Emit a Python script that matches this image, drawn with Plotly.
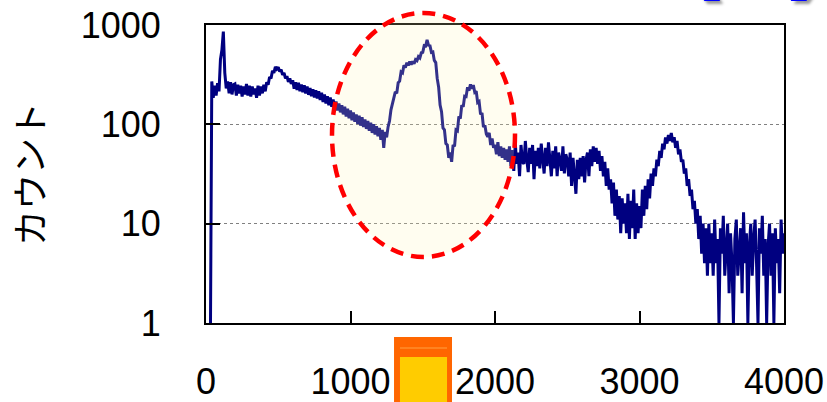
import plotly.graph_objects as go

# Channel numbers (every 10th channel of the spectrum)
channels = list(range(0, 4001, 10))

# Counts per channel, grouped by 100 channels per row
counts = [
    0.5, 0.5, 0.5, 0.5, 270, 185, 245, 195, 260, 215,          # 0-90
    450, 560, 860, 330, 230, 270, 205, 265, 200, 250,          # 100-190
    255, 195, 250, 205, 245, 190, 240, 200, 255, 195,          # 200-290
    245, 190, 240, 200, 230, 185, 245, 195, 240, 205,          # 300-390
    250, 215, 265, 250, 300, 290, 345, 330, 380, 360,          # 400-490
    375, 340, 355, 315, 330, 290, 305, 268, 290, 255,          # 500-590
    278, 228, 265, 222, 262, 215, 252, 210, 248, 205,          # 600-690
    240, 198, 232, 192, 226, 186, 220, 182, 215, 176,          # 700-790
    208, 168, 200, 162, 192, 156, 186, 150, 178, 144,          # 800-890
    170, 138, 162, 132, 156, 126, 150, 120, 144, 115,          # 900-990
    138, 110, 132, 106, 126, 101, 122, 97, 118, 94,            # 1000-1090
    112, 90, 108, 86, 104, 82, 100, 79, 96, 76,                # 1100-1190
    92, 70, 88, 58, 84, 74, 94, 108, 140, 158,                 # 1200-1290
    178, 212, 205, 262, 272, 338, 330, 392, 372, 418,          # 1300-1390
    392, 428, 398, 432, 408, 448, 438, 480, 465, 525,          # 1400-1490
    530, 620, 615, 710, 625, 620, 530, 535, 440, 418,          # 1500-1590
    290, 236, 156, 134, 92, 88, 64, 62, 46, 52,                # 1600-1690
    42, 62, 60, 88, 86, 120, 114, 156, 150, 192,               # 1700-1790
    190, 236, 218, 252, 228, 248, 210, 216, 166, 170,          # 1800-1890
    126, 130, 94, 98, 80, 75, 82, 62, 72, 58,                  # 1900-1990
    62, 50, 66, 48, 60, 46, 58, 44, 56, 42,                    # 2000-2090
    60, 38, 55, 34, 66, 40, 52, 30, 62, 42,                    # 2100-2190
    40, 68, 44, 33, 58, 40, 62, 28, 54, 38,                    # 2200-2290
    58, 36, 64, 40, 32, 58, 38, 66, 42, 30,                    # 2300-2390
    54, 36, 60, 30, 52, 44, 34, 60, 32, 50,                    # 2400-2490
    44, 30, 52, 24, 46, 32, 20, 44, 28, 46,                    # 2500-2590
    30, 48, 26, 44, 52, 30, 56, 38, 60, 42,                    # 2600-2690
    58, 40, 54, 34, 48, 30, 42, 24, 36, 22,                    # 2700-2790
    28, 16, 26, 12, 22, 11, 19, 8, 18, 10,                     # 2800-2890
    16, 8, 20, 7, 17, 9, 22, 7, 16, 8,                         # 2900-2990
    15, 9, 22, 12, 24, 14, 28, 18, 32, 24,                     # 3000-3090
    36, 30, 44, 38, 54, 46, 64, 56, 74, 64,                    # 3100-3190
    78, 68, 82, 66, 74, 58, 68, 50, 56, 42,                    # 3200-3290
    44, 32, 36, 24, 28, 19, 22, 14, 17, 10,                    # 3300-3390
    14, 7, 12, 5, 10, 4, 9, 3, 10, 4,                          # 3400-3490
    8, 3, 11, 4, 7, 1, 9, 5, 12, 3,                            # 3500-3590
    6, 10, 2, 8, 4, 1, 7, 11, 3, 6,                            # 3600-3690
    9, 2, 13, 4, 8, 1, 6, 10, 3, 7,                            # 3700-3790
    11, 4, 1, 9, 5, 12, 3, 7, 1, 6,                            # 3800-3890
    10, 3, 8, 1, 9, 4, 7, 2, 11, 5,                            # 3900-3990
    8,                                                         # 4000
]

x_ticks = [0, 1000, 2000, 3000, 4000]
y_ticks = [1, 10, 100, 1000]
y_title = "カウント"

NAVY = "#000080"
LABEL_FONT = dict(family="Liberation Sans, Arial, sans-serif", size=36, color="black")

fig = go.Figure()
fig.add_trace(go.Scatter(
    x=channels, y=counts, mode="lines",
    line=dict(color=NAVY, width=3),
    hoverinfo="skip", showlegend=False,
))

fig.update_xaxes(
    range=[0, 4000], tickvals=x_ticks, ticktext=[str(v) for v in x_ticks],
    ticks="inside", ticklen=12, tickwidth=2, tickcolor="black",
    showline=True, linecolor="black", linewidth=2, mirror=True,
    showgrid=False, zeroline=False, automargin=False,
    tickfont=LABEL_FONT, ticklabelstandoff=26,
)
fig.update_yaxes(
    type="log", range=[0, 3], tickvals=y_ticks, ticktext=[str(v) for v in y_ticks],
    ticks="inside", ticklen=14, tickwidth=2, tickcolor="black",
    showline=True, linecolor="black", linewidth=2, mirror=True,
    showgrid=True, gridcolor="#808080", gridwidth=1, griddash="dot",
    zeroline=False, automargin=False,
    tickfont=LABEL_FONT, ticklabelstandoff=36,
    title=dict(text=y_title, standoff=25,
               font=dict(family="Noto Sans CJK JP", size=36, color="black")),
)

shapes = [
    # highlighted region around the two central peaks
    dict(type="circle", xref="paper", yref="paper",
         x0=0.218, x1=0.5346, y0=0.2215, y1=1.0403,
         fillcolor="rgba(255,245,180,0.2)",
         line=dict(color="#FF0000", width=4.5, dash="13px,8px"),
         layer="above"),
    # marker block under the x axis
    dict(type="rect", xref="paper", yref="paper",
         x0=0.3253, x1=0.4256, y0=-0.33, y1=-0.047,
         fillcolor="#FF6600", line=dict(width=0), layer="above"),
    dict(type="line", xref="paper", yref="paper",
         x0=0.3356, x1=0.4170, y0=-0.0839, y1=-0.0839,
         line=dict(color="#FFA040", width=1), layer="above"),
    dict(type="rect", xref="paper", yref="paper",
         x0=0.3356, x1=0.4170, y0=-0.33, y1=-0.114,
         fillcolor="#FFCC00", line=dict(width=0), layer="above"),
]

fig.update_layout(
    width=827, height=402,
    margin=dict(l=206, r=43, t=25, b=79),
    paper_bgcolor="white", plot_bgcolor="white",
    shapes=shapes,
    annotations=[dict(
        text="(b)", xref="paper", yref="paper", x=0.951, y=1.07,
        yshift=1, xanchor="center", yanchor="bottom", showarrow=False,
        font=dict(family="Liberation Sans, Arial, sans-serif", size=115,
                  color="#0000FF", weight="bold", shadow="3px 3px 3px #999"),
    )],
)

fig.write_html("out.html")
